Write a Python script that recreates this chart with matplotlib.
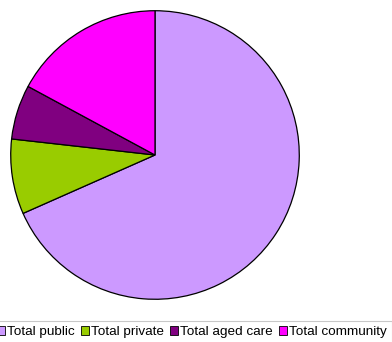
import matplotlib.pyplot as plt
from matplotlib.patches import Patch

plt.rcParams['font.family'] = ['Liberation Sans', 'DejaVu Sans']

# Share of total (%)
labels = ["Total public", "Total private", "Total aged care", "Total community"]
shares = [68.3, 8.4, 6.1, 17.1]
colors = ["#CC99FF", "#99CC00", "#800080", "#FF00FF"]

fig = plt.figure(figsize=(3.92, 3.42), dpi=100)
ax = fig.add_axes([10 / 392, 1 - 300 / 342, 290 / 392, 290 / 342])

ax.pie(shares, colors=colors, startangle=90, counterclock=False, radius=1,
       wedgeprops=dict(edgecolor="black", linewidth=0.9))
ax.set_xlim(-1.005, 1.005)
ax.set_ylim(-1.005, 1.005)
ax.set_aspect("equal")
ax.axis("off")

handles = [Patch(facecolor=c, edgecolor="black", linewidth=0.6) for c in colors]
leg = fig.legend(handles, labels, loc="center", bbox_to_anchor=(192 / 392, 1 - 332 / 342),
                 ncol=4, fontsize=9.7, frameon=True, fancybox=False,
                 handlelength=0.6, handleheight=0.6, handletextpad=0.15,
                 columnspacing=0.45, borderpad=0.4)
leg.get_frame().set_edgecolor("#BBBBBB")
leg.get_frame().set_linewidth(0.8)

fig.savefig("out.png", dpi=100)
